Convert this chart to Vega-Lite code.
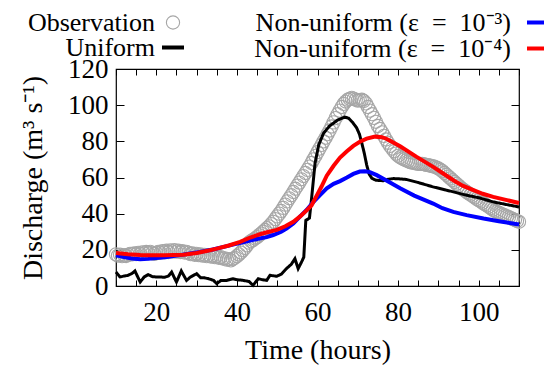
{
  "$schema": "https://vega.github.io/schema/vega-lite/v6.json",
  "width": 403,
  "height": 217,
  "autosize": {"type": "none"},
  "padding": {"left": 116, "top": 69, "right": 25, "bottom": 81},
  "background": "white",
  "config": {
    "view": {"stroke": "black", "strokeWidth": 1.2},
    "font": "Liberation Serif",
    "axis": {"grid": false, "domain": false, "labelFont": "Liberation Serif", "labelFontSize": 27, "labelColor": "black", "titleFont": "Liberation Serif", "titleFontSize": 28, "titleFontWeight": "normal", "titleColor": "black", "tickColor": "black", "tickWidth": 1, "labelOverlap": false, "labelFlush": false},
    "legend": {"orient": "none", "title": null, "labelFont": "Liberation Serif", "labelFontSize": 26, "labelColor": "black", "labelLimit": 0, "labelAlign": "right", "rowPadding": -1}
  },
  "datasets": {
    "obs": [
      {"t":10,"v":17.5},{"t":10.5,"v":16.8},{"t":11,"v":17.3},{"t":11.5,"v":16.5},{"t":12,"v":17},{"t":12.5,"v":16.6},{"t":13,"v":17.2},{"t":13.5,"v":17.8},{"t":14,"v":17.5},{"t":14.5,"v":18},
      {"t":15,"v":17.6},{"t":15.5,"v":18.3},{"t":16,"v":17.8},{"t":16.5,"v":18.6},{"t":17,"v":18},{"t":17.5,"v":18.8},{"t":18,"v":18.2},{"t":18.5,"v":18.9},{"t":19,"v":18.3},{"t":19.5,"v":17.8},
      {"t":20,"v":18.2},{"t":20.5,"v":18.9},{"t":21,"v":18.4},{"t":21.5,"v":19.2},{"t":22,"v":18.6},{"t":22.5,"v":19.5},{"t":23,"v":18.8},{"t":23.5,"v":19.7},{"t":24,"v":19},{"t":24.5,"v":19.8},
      {"t":25,"v":19},{"t":25.5,"v":19.5},{"t":26,"v":18.8},{"t":26.5,"v":19.2},{"t":27,"v":18.5},{"t":27.5,"v":18.9},{"t":28,"v":18.3},{"t":28.5,"v":17.6},{"t":29,"v":18},{"t":29.5,"v":17.3},
      {"t":30,"v":17.8},{"t":30.5,"v":17.1},{"t":31,"v":17.5},{"t":31.5,"v":16.8},{"t":32,"v":17.2},{"t":32.5,"v":16.5},{"t":33,"v":17},{"t":33.5,"v":16.3},{"t":34,"v":16.8},{"t":34.5,"v":16},
      {"t":35,"v":16.5},{"t":35.5,"v":15.6},{"t":36,"v":16},{"t":36.5,"v":15.2},{"t":37,"v":15.3},{"t":37.5,"v":14.6},{"t":38,"v":14.8},{"t":38.5,"v":14.2},{"t":39,"v":15},{"t":39.5,"v":15.6},
      {"t":40,"v":16.5},{"t":40.5,"v":17.5},{"t":41,"v":18.5},{"t":41.5,"v":19.8},{"t":42,"v":21},{"t":42.5,"v":22.5},{"t":43,"v":24},{"t":43.5,"v":24.8},{"t":44,"v":25.5},{"t":44.5,"v":26.3},
      {"t":45,"v":27},{"t":45.5,"v":28},{"t":46,"v":29},{"t":46.5,"v":30},{"t":47,"v":31},{"t":47.5,"v":32},{"t":48,"v":33},{"t":48.5,"v":34.2},{"t":49,"v":35.5},{"t":49.5,"v":37},
      {"t":50,"v":38.5},{"t":50.5,"v":40},{"t":51,"v":41.5},{"t":51.5,"v":43.2},{"t":52,"v":45},{"t":52.5,"v":46.8},{"t":53,"v":48.5},{"t":53.5,"v":50.2},{"t":54,"v":52},{"t":54.5,"v":53.8},
      {"t":55,"v":55.5},{"t":55.5,"v":57.2},{"t":56,"v":59},{"t":56.5,"v":60.8},{"t":57,"v":62.5},{"t":57.5,"v":64.2},{"t":58,"v":66},{"t":58.5,"v":68},{"t":59,"v":70},{"t":59.5,"v":72},
      {"t":60,"v":74},{"t":60.5,"v":76},{"t":61,"v":78},{"t":61.5,"v":80},{"t":62,"v":82},{"t":62.5,"v":84},{"t":63,"v":86},{"t":63.5,"v":88.2},{"t":64,"v":90.5},{"t":64.5,"v":92.8},
      {"t":65,"v":95},{"t":65.5,"v":97},{"t":66,"v":99},{"t":66.5,"v":100.7},{"t":67,"v":102},{"t":67.5,"v":103},{"t":68,"v":103.5},{"t":68.5,"v":104},{"t":69,"v":103.5},{"t":69.5,"v":103},
      {"t":70,"v":102.5},{"t":70.5,"v":102.8},{"t":71,"v":103},{"t":71.5,"v":102.3},{"t":72,"v":101},{"t":72.5,"v":99},{"t":73,"v":97},{"t":73.5,"v":95},{"t":74,"v":93},{"t":74.5,"v":90.8},
      {"t":75,"v":88.5},{"t":75.5,"v":86.8},{"t":76,"v":85},{"t":76.5,"v":83},{"t":77,"v":81},{"t":77.5,"v":79.2},{"t":78,"v":77.5},{"t":78.5,"v":76},{"t":79,"v":74.5},{"t":79.5,"v":73.2},
      {"t":80,"v":72},{"t":80.5,"v":71.2},{"t":81,"v":70.5},{"t":81.5,"v":70},{"t":82,"v":69.5},{"t":82.5,"v":69},{"t":83,"v":68.5},{"t":83.5,"v":68.2},{"t":84,"v":68},{"t":84.5,"v":67.8},
      {"t":85,"v":67.5},{"t":85.5,"v":67.5},{"t":86,"v":67.5},{"t":86.5,"v":67.3},{"t":87,"v":67},{"t":87.5,"v":66.8},{"t":88,"v":66.5},{"t":88.5,"v":66.3},{"t":89,"v":66},{"t":89.5,"v":65.5},
      {"t":90,"v":65},{"t":90.5,"v":64.3},{"t":91,"v":63.5},{"t":91.5,"v":62.5},{"t":92,"v":61.5},{"t":92.5,"v":60.5},{"t":93,"v":59.5},{"t":93.5,"v":58.5},{"t":94,"v":57.5},{"t":94.5,"v":56.5},
      {"t":95,"v":55.5},{"t":95.5,"v":54.5},{"t":96,"v":53.5},{"t":96.5,"v":52.8},{"t":97,"v":52},{"t":97.5,"v":51.2},{"t":98,"v":50.5},{"t":98.5,"v":49.8},{"t":99,"v":49},{"t":99.5,"v":48.2},
      {"t":100,"v":47.5},{"t":100.5,"v":46.8},{"t":101,"v":46},{"t":101.5,"v":45.2},{"t":102,"v":44.5},{"t":102.5,"v":43.8},{"t":103,"v":43},{"t":103.5,"v":42.2},{"t":104,"v":41.5},{"t":104.5,"v":41},
      {"t":105,"v":40.5},{"t":105.5,"v":40},{"t":106,"v":39.5},{"t":106.5,"v":39},{"t":107,"v":38.5},{"t":107.5,"v":38},{"t":108,"v":37.5},{"t":108.5,"v":37},{"t":109,"v":36.5},{"t":109.5,"v":36},{"t":110,"v":35.5}
    ],
    "lines": [
      {"s":"uni","t":10,"v":7.7},{"s":"uni","t":11,"v":5},{"s":"uni","t":12,"v":5.5},{"s":"uni","t":13,"v":5.9},{"s":"uni","t":14,"v":7},{"s":"uni","t":14.7,"v":8.3},{"s":"uni","t":16,"v":2.2},{"s":"uni","t":17,"v":5},{"s":"uni","t":18,"v":6.3},{"s":"uni","t":19,"v":5.2},
      {"s":"uni","t":20,"v":5},{"s":"uni","t":21,"v":5},{"s":"uni","t":22,"v":4.8},{"s":"uni","t":23,"v":5.5},{"s":"uni","t":23.8,"v":7.7},{"s":"uni","t":25,"v":2.2},{"s":"uni","t":26.2,"v":8.3},{"s":"uni","t":27.5,"v":3.1},{"s":"uni","t":28.5,"v":5},{"s":"uni","t":30,"v":6.8},
      {"s":"uni","t":31,"v":4.6},{"s":"uni","t":32,"v":4.5},{"s":"uni","t":33,"v":4},{"s":"uni","t":34.2,"v":3.1},{"s":"uni","t":35,"v":1.3},{"s":"uni","t":36,"v":3},{"s":"uni","t":37.5,"v":3.1},{"s":"uni","t":39,"v":4},{"s":"uni","t":40,"v":3.5},{"s":"uni","t":41.6,"v":3.1},
      {"s":"uni","t":43,"v":2.5},{"s":"uni","t":44,"v":0.4},{"s":"uni","t":45.3,"v":4},{"s":"uni","t":46.3,"v":3.5},{"s":"uni","t":47.4,"v":3.1},{"s":"uni","t":48.2,"v":5.9},{"s":"uni","t":49.9,"v":5.4},{"s":"uni","t":51,"v":6.5},{"s":"uni","t":52.3,"v":9.6},{"s":"uni","t":53.5,"v":12},
      {"s":"uni","t":54.4,"v":15.1},{"s":"uni","t":55.2,"v":9.6},{"s":"uni","t":56.2,"v":14},{"s":"uni","t":56.6,"v":16},{"s":"uni","t":57.1,"v":36.3},{"s":"uni","t":58,"v":37.5},{"s":"uni","t":58.6,"v":50},{"s":"uni","t":59.4,"v":68},{"s":"uni","t":60.3,"v":78},{"s":"uni","t":61.5,"v":84.5},
      {"s":"uni","t":63,"v":88.5},{"s":"uni","t":65,"v":91.8},{"s":"uni","t":66.8,"v":93.4},{"s":"uni","t":67.7,"v":92.8},{"s":"uni","t":68.7,"v":90.5},{"s":"uni","t":69.7,"v":87.5},{"s":"uni","t":70.4,"v":84},{"s":"uni","t":71,"v":79},{"s":"uni","t":71.6,"v":73.5},{"s":"uni","t":72.2,"v":67},
      {"s":"uni","t":72.8,"v":62},{"s":"uni","t":73.5,"v":59.5},{"s":"uni","t":74.5,"v":58.5},{"s":"uni","t":76.3,"v":58.2},{"s":"uni","t":77.5,"v":59},{"s":"uni","t":78.8,"v":59.4},{"s":"uni","t":80,"v":59.3},{"s":"uni","t":82.1,"v":58.9},{"s":"uni","t":85,"v":57.2},{"s":"uni","t":88.7,"v":54.8},
      {"s":"uni","t":92,"v":53},{"s":"uni","t":97,"v":50.2},{"s":"uni","t":100,"v":48.8},{"s":"uni","t":103.6,"v":46.5},{"s":"uni","t":107,"v":45},{"s":"uni","t":110,"v":43.7},

      {"s":"n3","t":10,"v":17},{"s":"n3","t":12,"v":16},{"s":"n3","t":14,"v":15.2},{"s":"n3","t":16,"v":14.8},{"s":"n3","t":18,"v":15},{"s":"n3","t":20,"v":15.5},{"s":"n3","t":22.6,"v":16},{"s":"n3","t":25,"v":16.8},{"s":"n3","t":28,"v":17.8},{"s":"n3","t":30.8,"v":18.8},
      {"s":"n3","t":34,"v":20.2},{"s":"n3","t":37,"v":21.8},{"s":"n3","t":39,"v":22.9},{"s":"n3","t":42,"v":24.5},{"s":"n3","t":45,"v":26},{"s":"n3","t":47.4,"v":27},{"s":"n3","t":49,"v":28.2},{"s":"n3","t":51,"v":30},{"s":"n3","t":52.3,"v":31.7},{"s":"n3","t":54,"v":34.5},
      {"s":"n3","t":55.7,"v":38.5},{"s":"n3","t":57.3,"v":42},{"s":"n3","t":59,"v":46.5},{"s":"n3","t":60.5,"v":50},{"s":"n3","t":62.3,"v":54},{"s":"n3","t":64,"v":56.5},{"s":"n3","t":65.6,"v":58},{"s":"n3","t":67.3,"v":60},{"s":"n3","t":68.9,"v":62},{"s":"n3","t":70.5,"v":63.3},
      {"s":"n3","t":71.8,"v":63.5},{"s":"n3","t":73,"v":63},{"s":"n3","t":74.7,"v":61.3},{"s":"n3","t":77,"v":58.5},{"s":"n3","t":80.5,"v":54},{"s":"n3","t":84,"v":50},{"s":"n3","t":88.7,"v":45.6},{"s":"n3","t":91,"v":43},{"s":"n3","t":93.7,"v":41},{"s":"n3","t":97,"v":39.2},
      {"s":"n3","t":101.2,"v":37.3},{"s":"n3","t":105,"v":35.8},{"s":"n3","t":110,"v":34},

      {"s":"n4","t":10,"v":18.3},{"s":"n4","t":13,"v":17.6},{"s":"n4","t":16,"v":17.1},{"s":"n4","t":18.4,"v":17},{"s":"n4","t":22,"v":17},{"s":"n4","t":26.7,"v":17.3},{"s":"n4","t":30,"v":18.3},{"s":"n4","t":33,"v":19.6},{"s":"n4","t":35,"v":20.7},{"s":"n4","t":38,"v":22.4},
      {"s":"n4","t":40.8,"v":24.4},{"s":"n4","t":43.3,"v":26.8},{"s":"n4","t":45.7,"v":28.6},{"s":"n4","t":47.5,"v":29.7},{"s":"n4","t":49.9,"v":31},{"s":"n4","t":52,"v":33},{"s":"n4","t":54,"v":35.5},{"s":"n4","t":55.7,"v":38.5},{"s":"n4","t":57.3,"v":41.8},{"s":"n4","t":58.5,"v":44.5},
      {"s":"n4","t":59.8,"v":50},{"s":"n4","t":61,"v":55},{"s":"n4","t":62.3,"v":61},{"s":"n4","t":64,"v":66.5},{"s":"n4","t":65.6,"v":71},{"s":"n4","t":67.3,"v":74.5},{"s":"n4","t":68.9,"v":77.5},{"s":"n4","t":70.5,"v":79.8},{"s":"n4","t":72.2,"v":81.5},{"s":"n4","t":74.3,"v":82.6},
      {"s":"n4","t":76,"v":82.3},{"s":"n4","t":77.2,"v":81.3},{"s":"n4","t":80.5,"v":77.3},{"s":"n4","t":84.6,"v":71.4},{"s":"n4","t":88.7,"v":65.9},{"s":"n4","t":91,"v":62.5},{"s":"n4","t":93.7,"v":58.5},{"s":"n4","t":96,"v":55.5},{"s":"n4","t":98.7,"v":53},{"s":"n4","t":101,"v":51},
      {"s":"n4","t":103.6,"v":49.3},{"s":"n4","t":107,"v":47.5},{"s":"n4","t":110,"v":45.9}
    ]
  },
  "layer": [
    {
      "data": {"name": "obs"},
      "transform": [{"calculate": "'obs'", "as": "s"}],
      "mark": {"type": "point", "filled": false, "opacity": 1, "size": 175, "strokeWidth": 1.1, "color": "#a6a6a6"},
      "encoding": {
        "x": {"field": "t", "type": "quantitative", "scale": {"domain": [10, 110], "nice": false, "zero": false},
              "axis": {"orient": "bottom", "values": [10,15,20,25,30,35,40,45,50,55,60,65,70,75,80,85,90,95,100,105,110], "labelExpr": "datum.value % 20 == 0 ? datum.label : ''", "tickSize": -6, "labelPadding": 19, "title": "Time (hours)", "titleY": 64, "titleBaseline": "middle"}},
        "y": {"field": "v", "type": "quantitative", "scale": {"domain": [0, 120], "nice": false},
              "axis": {"orient": "left", "values": [0,20,40,60,80,100,120], "tickSize": -8, "labelPadding": 16, "title": "Discharge (m³ s⁻¹)", "titleX": -83, "titleBaseline": "middle"}},
        "shape": {"field": "s", "type": "nominal", "scale": {"domain": ["obs"], "range": ["circle"]},
                  "legend": {"legendX": 44, "legendY": -59.5, "labelExpr": "'Observation'", "labelOffset": -31, "symbolType": "circle", "symbolSize": 175, "symbolStrokeWidth": 1.1, "symbolStrokeColor": "#a6a6a6", "symbolFillColor": "transparent"}}
      }
    },
    {
      "data": {"name": "lines"},
      "transform": [{"filter": "datum.s == 'uni'"}],
      "mark": {"type": "line", "strokeWidth": 3, "color": "black"},
      "encoding": {
        "x": {"field": "t", "type": "quantitative", "axis": {"orient": "top", "values": [10,15,20,25,30,35,40,45,50,55,60,65,70,75,80,85,90,95,100,105,110], "labels": false, "tickSize": -6, "title": null}},
        "y": {"field": "v", "type": "quantitative", "axis": {"orient": "right", "values": [0,20,40,60,80,100,120], "labels": false, "tickSize": -8, "title": null}},
        "strokeDash": {"field": "s", "type": "nominal", "scale": {"domain": ["uni"], "range": [[1, 0]]},
                       "legend": {"legendX": 44, "legendY": -34.5, "labelExpr": "'Uniform'", "labelOffset": -31, "symbolType": "stroke", "symbolSize": 484, "symbolStrokeWidth": 4, "symbolStrokeColor": "black"}}
      }
    },
    {
      "data": {"name": "lines"},
      "transform": [{"filter": "datum.s == 'n3'"}],
      "mark": {"type": "line", "strokeWidth": 4},
      "encoding": {
        "x": {"field": "t", "type": "quantitative", "axis": null},
        "y": {"field": "v", "type": "quantitative", "axis": null},
        "color": {"field": "s", "type": "nominal", "scale": {"domain": ["n3", "n4"], "range": ["#0000ff", "#ff0000"]},
                  "legend": {"legendX": 409, "legendY": -59.5, "labelExpr": "datum.value == 'n3' ? 'Non-uniform (ε\u2002=\u200210⁻³)' : 'Non-uniform (ε\u2002=\u200210⁻⁴)'", "labelOffset": -40, "symbolType": "stroke", "symbolSize": 484, "symbolStrokeWidth": 4}}
      }
    },
    {
      "data": {"name": "lines"},
      "transform": [{"filter": "datum.s == 'n4'"}],
      "mark": {"type": "line", "strokeWidth": 4},
      "encoding": {
        "x": {"field": "t", "type": "quantitative", "axis": null},
        "y": {"field": "v", "type": "quantitative", "axis": null},
        "color": {"field": "s", "type": "nominal"}
      }
    }
  ],
  "resolve": {"axis": {"x": "independent", "y": "independent"}}
}
